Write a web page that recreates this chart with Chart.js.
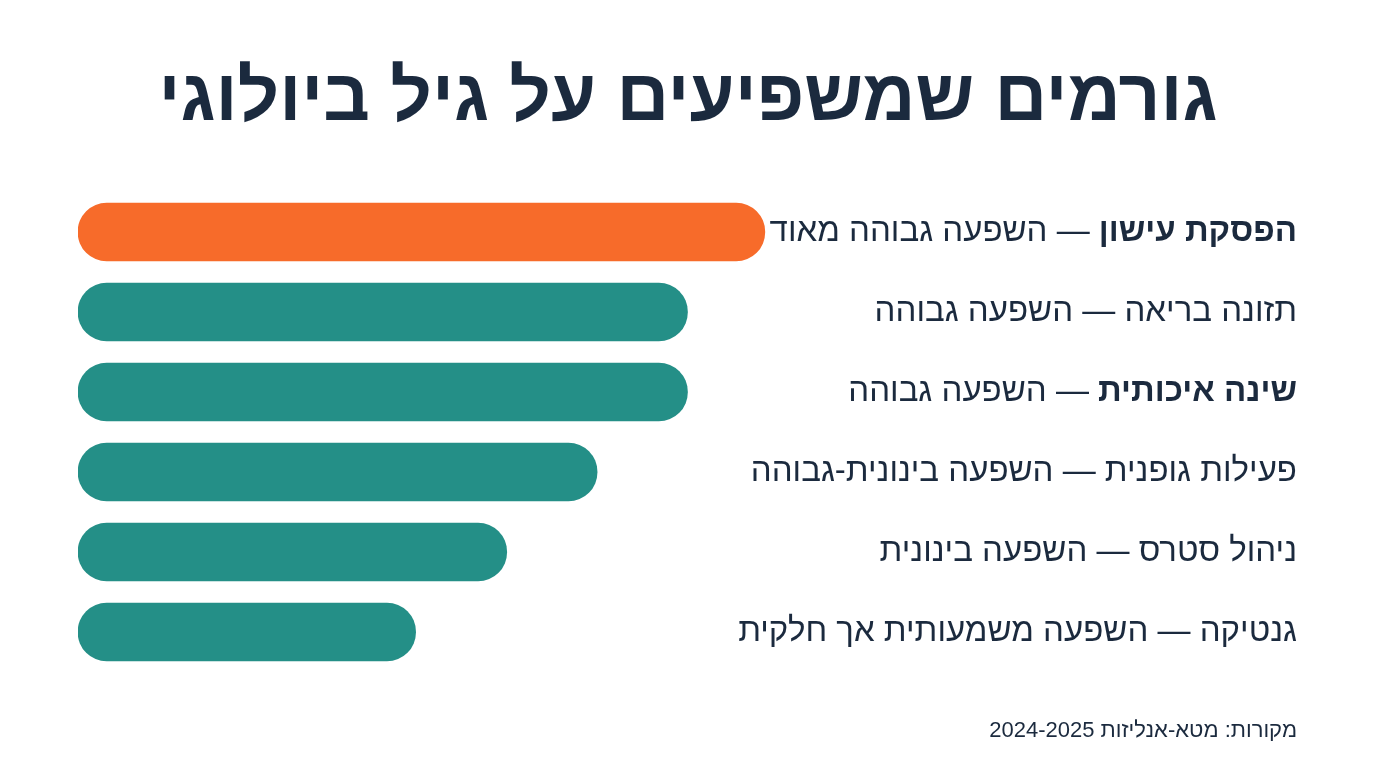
<!DOCTYPE html>
<html lang="he" dir="rtl">
<head>
<meta charset="utf-8">
<title>גורמים שמשפיעים על גיל ביולוגי</title>
<script src="https://cdn.jsdelivr.net/npm/chart.js@4/dist/chart.umd.min.js"></script>
<style>
  html, body { margin: 0; padding: 0; background: #ffffff; }
  #wrap { width: 1376px; height: 768px; position: relative; }
</style>
</head>
<body>
<div id="wrap"><canvas id="chart" width="1376" height="768"></canvas></div>
<script>
// data
const factors = ["הפסקת עישון", "תזונה בריאה", "שינה איכותית", "פעילות גופנית", "ניהול סטרס", "גנטיקה"];
const impactText = ["השפעה גבוהה מאוד", "השפעה גבוהה", "השפעה גבוהה", "השפעה בינונית-גבוהה", "השפעה בינונית", "השפעה משמעותית אך חלקית"];
const boldFactor = [true, false, true, false, false, false];
const impactScore = [95, 84.3, 84.3, 71.8, 59.3, 46.7];

const titleText = "גורמים שמשפיעים על גיל ביולוגי";
const sourceText = "מקורות: מטא-אנליזות 2024-2025";

const ORANGE = "#f76b2a";
const TEAL = "#248f87";
const INK = "#1b2a3e";
const FONT = '"Liberation Sans", "DejaVu Sans", sans-serif';

// labels + title + source drawn on the canvas
const textPlugin = {
  id: "texts",
  afterDraw(chart) {
    const ctx = chart.ctx;
    const yScale = chart.scales.y;
    ctx.save();
    ctx.fillStyle = INK;
    ctx.direction = "rtl";

    // title
    ctx.font = "bold 73px " + FONT;
    ctx.textAlign = "center";
    ctx.textBaseline = "middle";
    ctx.fillText(titleText, 688, 100);

    // row labels, right aligned
    const rightX = 1297;
    factors.forEach((f, i) => {
      const y = yScale.getPixelForValue(i);
      ctx.textAlign = "right";
      ctx.textBaseline = "middle";
      ctx.font = (boldFactor[i] ? "bold " : "") + "33px " + FONT;
      ctx.fillText(f, rightX, y);
      const w = ctx.measureText(f).width;
      ctx.font = "33px " + FONT;
      ctx.fillText(" — " + impactText[i], rightX - w, y);
    });

    // source
    ctx.font = "22px " + FONT;
    ctx.textAlign = "right";
    ctx.fillText(sourceText, rightX, 731);
    ctx.restore();
  }
};

new Chart(document.getElementById("chart"), {
  type: "bar",
  data: {
    labels: factors,
    datasets: [{
      data: impactScore,
      backgroundColor: impactScore.map((_, i) => i === 0 ? ORANGE : TEAL),
      borderRadius: 40,
      borderSkipped: false,
      barThickness: 58
    }]
  },
  options: {
    indexAxis: "y",
    responsive: false,
    animation: false,
    layout: { padding: { left: 78, right: 575, top: 192, bottom: 96 } },
    scales: {
      x: { display: false, min: 0, max: 100 },
      y: { display: false, grid: { display: false } }
    },
    plugins: {
      legend: { display: false },
      tooltip: { enabled: false }
    }
  },
  plugins: [textPlugin]
});
</script>
</body>
</html>
